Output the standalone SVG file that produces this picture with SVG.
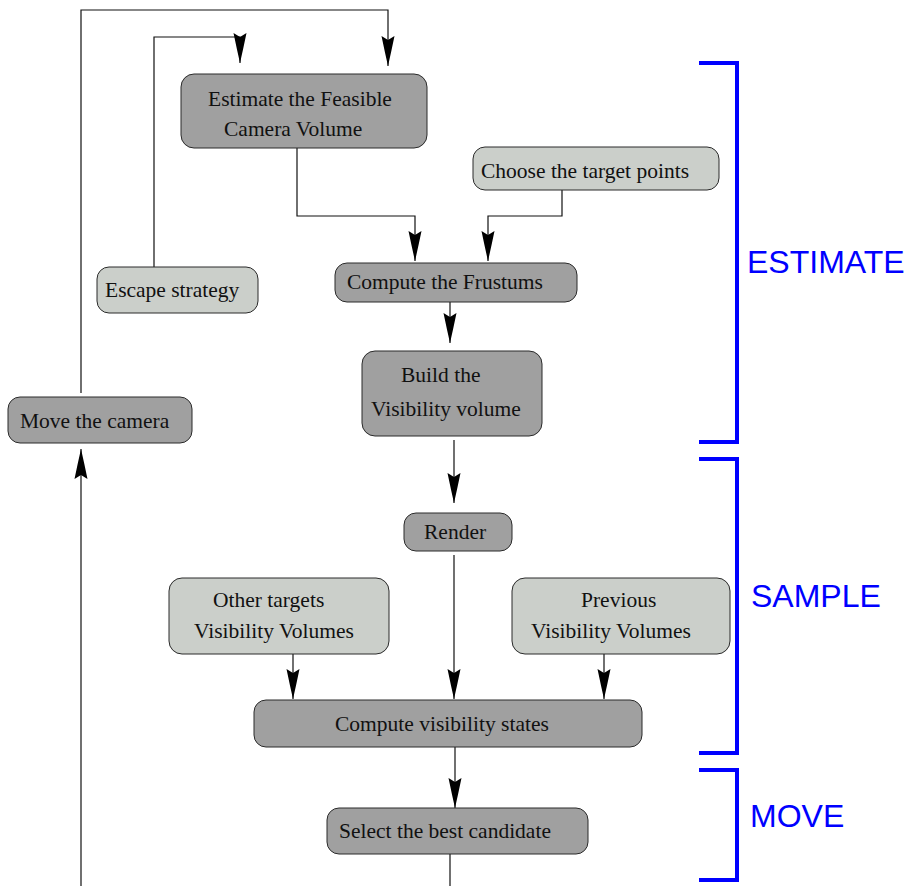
<svg xmlns="http://www.w3.org/2000/svg" width="909" height="886" viewBox="0 0 909 886">
<style>
.box{stroke:#2a2a2a;stroke-width:1}
.dark{fill:#a0a0a0}
.light{fill:#cbcfca}
.t{font-family:"Liberation Serif","Times New Roman",serif;font-size:21.5px;fill:#111}
.c{fill:none;stroke:#111;stroke-width:1.2}
.br{fill:none;stroke:#0000ff;stroke-width:4}
.lab{font-family:"Liberation Sans",Arial,sans-serif;font-size:32px;fill:#0000ff}
</style>
<defs>
<marker id="ah" markerUnits="userSpaceOnUse" markerWidth="40" markerHeight="20" refX="0" refY="0" orient="auto" overflow="visible">
<path d="M0,0 Q-14,-3.2 -30,-6.5 L-26,0 L-30,6.5 Q-14,3.2 0,0 Z" fill="#000"/>
</marker>
</defs>
<rect width="909" height="886" fill="#fff"/>
<g id="connectors">
<polyline class="c" points="81,393 81,10 388,10 388,66" marker-end="url(#ah)"/>
<polyline class="c" points="154,267 154,37 240,37 240,63" marker-end="url(#ah)"/>
<polyline class="c" points="297,148 297,216 415,216 415,261" marker-end="url(#ah)"/>
<polyline class="c" points="562,190 562,216 488,216 488,261" marker-end="url(#ah)"/>
<line class="c" x1="450" y1="302" x2="450" y2="343" marker-end="url(#ah)"/>
<line class="c" x1="454" y1="440" x2="454" y2="503" marker-end="url(#ah)"/>
<line class="c" x1="454" y1="555" x2="454" y2="699" marker-end="url(#ah)"/>
<line class="c" x1="293" y1="654" x2="293" y2="699" marker-end="url(#ah)"/>
<line class="c" x1="604" y1="652" x2="604" y2="699" marker-end="url(#ah)"/>
<line class="c" x1="455" y1="747" x2="455" y2="808" marker-end="url(#ah)"/>
<line class="c" x1="450" y1="854" x2="450" y2="886"/>
<line class="c" x1="81" y1="886" x2="81" y2="449" marker-end="url(#ah)"/>
</g>
<g id="estimate-volume"><rect class="box dark" x="181" y="74" width="246" height="74" rx="13"/><text class="t" x="208" y="106">Estimate the Feasible</text><text class="t" x="224" y="136">Camera Volume</text></g>
<g id="choose-targets"><rect class="box light" x="473" y="147" width="246" height="43" rx="12"/><text class="t" x="481" y="178">Choose the target points</text></g>
<g id="compute-frustums"><rect class="box dark" x="335" y="263" width="242" height="39" rx="12"/><text class="t" x="347" y="289">Compute the Frustums</text></g>
<g id="escape-strategy"><rect class="box light" x="97" y="267" width="161" height="46" rx="12"/><text class="t" x="105" y="297">Escape strategy</text></g>
<g id="build-visibility"><rect class="box dark" x="362" y="351" width="180" height="85" rx="13"/><text class="t" x="401" y="382">Build the</text><text class="t" x="371" y="416">Visibility volume</text></g>
<g id="move-camera"><rect class="box dark" x="8" y="397" width="184" height="46" rx="12"/><text class="t" x="20" y="428">Move the camera</text></g>
<g id="render"><rect class="box dark" x="404" y="513" width="108" height="38" rx="12"/><text class="t" x="424" y="539">Render</text></g>
<g id="other-targets"><rect class="box light" x="169" y="578" width="220" height="76" rx="13"/><text class="t" x="213" y="607">Other targets</text><text class="t" x="194" y="638">Visibility Volumes</text></g>
<g id="previous-volumes"><rect class="box light" x="512" y="578" width="218" height="76" rx="13"/><text class="t" x="581" y="607">Previous</text><text class="t" x="531" y="638">Visibility Volumes</text></g>
<g id="compute-visibility"><rect class="box dark" x="254" y="700" width="388" height="47" rx="12"/><text class="t" x="335" y="731">Compute visibility states</text></g>
<g id="select-best"><rect class="box dark" x="327" y="808" width="261" height="46" rx="12"/><text class="t" x="339" y="838">Select the best candidate</text></g>
<g id="brackets">
<polyline class="br" points="699,63 737,63 737,442 699,442"/>
<polyline class="br" points="699,459 737,459 737,753 699,753"/>
<polyline class="br" points="699,770 737,770 737,880 699,880"/>
<text class="lab" x="747" y="273">ESTIMATE</text>
<text class="lab" x="751" y="607">SAMPLE</text>
<text class="lab" x="750" y="827">MOVE</text>
</g>
</svg>
